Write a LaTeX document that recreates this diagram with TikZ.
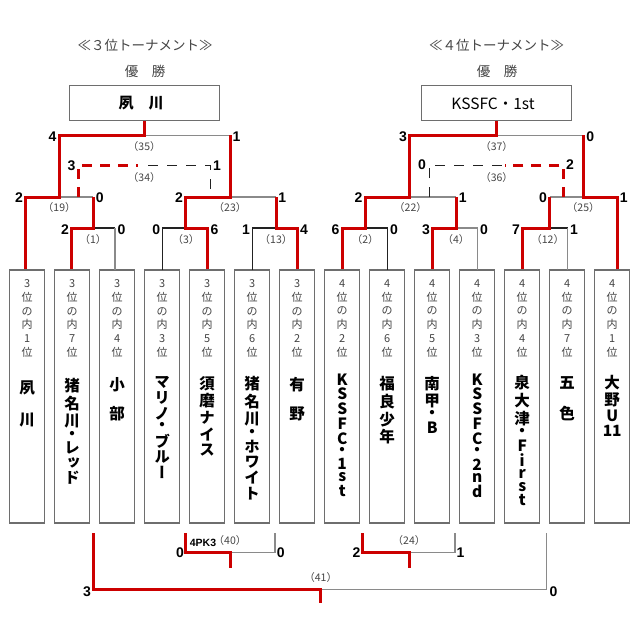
\documentclass[tikz,border=0pt]{standalone}
\usepackage{fontspec}
\newfontfamily\jpv[RawFeature=+vert]{Noto Sans CJK JP}
\newfontfamily\jph{Noto Sans CJK JP}
\newfontfamily\lsans{Liberation Sans}
\definecolor{rd}{HTML}{CC0000}
\definecolor{gl}{HTML}{8A8A8A}
\definecolor{bl}{HTML}{222222}
\definecolor{bx}{HTML}{6E6E6E}
\definecolor{tx}{HTML}{444444}
\newcommand\vhead[1]{\vbox{\baselineskip=13.8pt\lineskiplimit=-100pt\lineskip=0pt\halign{\hfil##\hfil\cr#1\crcr}}}
\newcommand\vname[1]{\vbox{\baselineskip=0pt\lineskiplimit=0pt\lineskip=3pt\halign{\hfil##\hfil\cr#1\crcr}}}
\begin{document}
\begin{tikzpicture}[x=1pt,y=-1pt,
  rl/.style={draw=rd,line width=3pt,line join=miter},
  gline/.style={draw=gl,line width=1.3pt},
  bline/.style={draw=bl,line width=1.2pt},
  rdash/.style={draw=rd,line width=3pt,dash pattern=on 10pt off 8pt},
  bdash/.style={draw=bl,line width=1pt,dash pattern=on 10pt off 9pt},
  tbox/.style={draw=bx,line width=1.3pt,minimum width=35pt,minimum height=253pt,inner sep=0pt},
  topbox/.style={draw=bx,line width=1pt,minimum width=150pt,minimum height=35pt,inner sep=0pt},
  hd/.style={anchor=north,inner sep=0pt,text=tx,font=\jph\fontsize{11}{11}\selectfont},
  nm/.style={anchor=north,inner sep=0pt,font=\jpv\bfseries\fontsize{15.5}{15.5}\selectfont},
  sl/.style={anchor=east,inner sep=0pt,font=\lsans\bfseries\fontsize{14}{14}\selectfont},
  sr/.style={anchor=west,inner sep=0pt,font=\lsans\bfseries\fontsize{14}{14}\selectfont},
  ml/.style={inner sep=0pt,text=tx,font=\jph\fontsize{10.5}{10.5}\selectfont},
  ttl/.style={inner sep=0pt,text=tx,font=\jph\fontsize{13.5}{13.5}\selectfont}]
\useasboundingbox[fill=white] (0,0) rectangle (640,640);

% titles
\node[ttl] (t3) at (145,45) {≪３位トーナメント≫};
\node[ttl] (t4) at (496.7,45) {≪４位トーナメント≫};
\node[ttl] (w3) at (145,71) {優　勝};
\node[ttl] (w4) at (497,71) {優　勝};
\node[topbox] (c3) at (144.2,102.5) {};
\node[topbox] (c4) at (496,102.5) {};
\node[inner sep=0pt,font=\jph\bfseries\fontsize{15}{15}\selectfont] (c3t) at (141,103) {夙　川};
\node[inner sep=0pt,font=\jph\fontsize{15.5}{15.5}\selectfont] (c4t) at (493,103.5) {KSSFC・1st};

% team boxes
\foreach \i in {0,...,13} \node[tbox] (b\i) at ({27.2+45*\i},396.5) {};

% headers
\node[hd] (h0) at (b0.center |- 0,279.3) {\vhead{3\cr 位\cr の\cr 内\cr 1\cr 位}};
\node[hd] (h1) at (b1.center |- 0,279.3) {\vhead{3\cr 位\cr の\cr 内\cr 7\cr 位}};
\node[hd] (h2) at (b2.center |- 0,279.3) {\vhead{3\cr 位\cr の\cr 内\cr 4\cr 位}};
\node[hd] (h3) at (b3.center |- 0,279.3) {\vhead{3\cr 位\cr の\cr 内\cr 3\cr 位}};
\node[hd] (h4) at (b4.center |- 0,279.3) {\vhead{3\cr 位\cr の\cr 内\cr 5\cr 位}};
\node[hd] (h5) at (b5.center |- 0,279.3) {\vhead{3\cr 位\cr の\cr 内\cr 6\cr 位}};
\node[hd] (h6) at (b6.center |- 0,279.3) {\vhead{3\cr 位\cr の\cr 内\cr 2\cr 位}};
\node[hd] (h7) at (b7.center |- 0,279.3) {\vhead{4\cr 位\cr の\cr 内\cr 2\cr 位}};
\node[hd] (h8) at (b8.center |- 0,279.3) {\vhead{4\cr 位\cr の\cr 内\cr 6\cr 位}};
\node[hd] (h9) at (b9.center |- 0,279.3) {\vhead{4\cr 位\cr の\cr 内\cr 5\cr 位}};
\node[hd] (h10) at (b10.center |- 0,279.3) {\vhead{4\cr 位\cr の\cr 内\cr 3\cr 位}};
\node[hd] (h11) at (b11.center |- 0,279.3) {\vhead{4\cr 位\cr の\cr 内\cr 4\cr 位}};
\node[hd] (h12) at (b12.center |- 0,279.3) {\vhead{4\cr 位\cr の\cr 内\cr 7\cr 位}};
\node[hd] (h13) at (b13.center |- 0,279.3) {\vhead{4\cr 位\cr の\cr 内\cr 1\cr 位}};

% names
\node[nm] (n0) at (b0.center |- 0,381) {\vname{夙\cr\rule{0pt}{12pt}\cr 川}};
\node[nm] (n1) at (b1.center |- 0,378) {\vname{猪\cr 名\cr 川\cr ・\cr レ\cr ッ\cr ド}};
\node[nm] (n2) at (b2.center |- 0,377) {\vname{小\cr\rule{0pt}{9pt}\cr 部}};
\node[nm] (n3) at (b3.center |- 0,376) {\vname{マ\cr リ\cr ノ\cr ・\cr ブ\cr ル\cr ー}};
\node[nm] (n4) at (b4.center |- 0,376) {\vname{須\cr 磨\cr ナ\cr イ\cr ス}};
\node[nm] (n5) at (b5.center |- 0,376) {\vname{猪\cr 名\cr 川\cr ・\cr ホ\cr ワ\cr イ\cr ト}};
\node[nm] (n6) at (b6.center |- 0,377) {\vname{有\cr\rule{0pt}{9pt}\cr 野}};
\node[nm] (n7) at (b7.center |- 0,373.3) {\vname{K\cr S\cr S\cr F\cr C\cr ・\cr 1\cr s\cr t}};
\node[nm] (n8) at (b8.center |- 0,376) {\vname{福\cr 良\cr 少\cr 年}};
\node[nm] (n9) at (b9.center |- 0,376) {\vname{南\cr 甲\cr ・\cr B}};
\node[nm] (n10) at (b10.center |- 0,373.3) {\vname{K\cr S\cr S\cr F\cr C\cr ・\cr 2\cr n\cr d}};
\node[nm] (n11) at (b11.center |- 0,375) {\vname{泉\cr 大\cr 津\cr ・\cr F\cr i\cr r\cr s\cr t}};
\node[nm] (n12) at (b12.center |- 0,376.7) {\vname{五\cr\rule{0pt}{11pt}\cr 色}};
\node[nm] (n13) at (b13.center |- 0,375) {\vname{大\cr 野\cr U\cr 11}};

% loser lines
\draw[bline] (93,228)--(115,228);
\draw[gline] (115,228)--(115,270);
\draw[bline] (162.5,270)--(162.5,228)--(185,228);
\draw[bline] (252.3,270)--(252.3,228)--(276,228);
\draw[gline] (59.3,197)--(93,197);
\draw[gline] (230,197)--(276,197);
\draw[gline] (144.3,135.3)--(230,135.3);
\draw[bline] (365,228)--(387.7,228)--(387.7,270);
\draw[gline] (456,228)--(477.7,228)--(477.7,270);
\draw[bline] (549.5,228)--(567.7,228);
\draw[gline] (567.7,228)--(567.7,270);
\draw[gline] (409.5,197)--(456,197);
\draw[gline] (549.5,197)--(583.3,197);
\draw[gline] (496.5,135.3)--(583.3,135.3);
\draw[gline] (320,589.3)--(546.7,589.3)--(546.7,533);
\draw[gline] (230.7,552.3)--(275,552.3)--(275,533);
\draw[gline] (409,552.3)--(455,552.3)--(455,533);

% dashed
\draw[bdash] (148,165)--(210,165)--(210,192);
\draw[rdash] (78.3,197)--(78.3,165)--(138,165);
\draw[bdash] (429,197)--(429,165)--(505,165);
\draw[rdash] (563.3,197)--(563.3,165)--(505,165);

% winner lines
\draw[rl] (b0.north -| 25.7,0)--(25.7,197)--(59.3,197)--(59.3,135.3)--(144.3,135.3)--(c3.south -| 144.3,0);
\draw[rl] (b1.north -| 71,0)--(71,228)--(93,228)--(93,197);
\draw[rl] (b4.north -| 207.5,0)--(207.5,228)--(185,228)--(185,197)--(230,197)--(230,135.3);
\draw[rl] (b6.north -| 297.5,0)--(297.5,228)--(276,228)--(276,197);
\draw[rl] (b7.north -| 342,0)--(342,228)--(365,228)--(365,197)--(409.5,197)--(409.5,135.3)--(496.5,135.3)--(c4.south -| 496.5,0);
\draw[rl] (b9.north -| 432.7,0)--(432.7,228)--(456,228)--(456,197);
\draw[rl] (b11.north -| 522.7,0)--(522.7,228)--(549.5,228)--(549.5,197);
\draw[rl] (b13.north -| 617,0)--(617,197)--(583.3,197)--(583.3,135.3);
\draw[rl] (93.5,533)--(93.5,589.3)--(320,589.3)--(320,603.3);
\draw[rl] (185.7,533)--(185.7,552.3)--(230.7,552.3)--(230.7,567.7);
\draw[rl] (362.7,533)--(362.7,552.3)--(409,552.3)--(409,567.7);

% scores left
\node[sl] (s35a) at (56.5,136.3) {4};
\node[sr] (s35b) at (232.3,136.3) {1};
\node[sl] (s34a) at (75.5,165.5) {3};
\node[sr] (s34b) at (213,165.5) {1};
\node[sl] (s19a) at (23,198) {2};
\node[sr] (s19b) at (95.7,198) {0};
\node[sl] (s23a) at (183,198) {2};
\node[sr] (s23b) at (278.2,198) {1};
\node[sl] (s1a) at (69,229.5) {2};
\node[sr] (s1b) at (117.3,229.5) {0};
\node[sl] (s3a) at (160.3,229.5) {0};
\node[sr] (s3b) at (210.5,229.5) {6};
\node[sl] (s13a) at (250.2,229.5) {1};
\node[sr] (s13b) at (300,229.5) {4};
% scores right
\node[sl] (s37a) at (407,136.3) {3};
\node[sr] (s37b) at (586.2,136.3) {0};
\node[sl] (s36a) at (426,164.5) {0};
\node[sr] (s36b) at (566,164.5) {2};
\node[sl] (s22a) at (362.5,198) {2};
\node[sr] (s22b) at (458.7,198) {1};
\node[sl] (s25a) at (547,198) {0};
\node[sr] (s25b) at (619.7,198) {1};
\node[sl] (s2a) at (339.5,229.5) {6};
\node[sr] (s2b) at (390,229.5) {0};
\node[sl] (s4a) at (430.2,229.5) {3};
\node[sr] (s4b) at (480,229.5) {0};
\node[sl] (s12a) at (520.2,229.5) {7};
\node[sr] (s12b) at (570,229.5) {1};
% bottom scores
\node[sl] (s41a) at (91,591.5) {3};
\node[sr] (s41b) at (549.5,591.5) {0};
\node[sl] (s40a) at (184,553) {0};
\node[sr] (s40b) at (276.7,553) {0};
\node[sl] (s24a) at (360.5,553) {2};
\node[sr] (s24b) at (456.5,553) {1};
\node[inner sep=0pt,font=\lsans\bfseries\fontsize{10.5}{10.5}\selectfont] (pk) at (203,543.3) {4PK3};

% match labels
\node[ml] (m35) at (144.3,146.7) {（35）};
\node[ml] (m34) at (144.3,177.7) {（34）};
\node[ml] (m19) at (59.3,207.7) {（19）};
\node[ml] (m23) at (230,207.7) {（23）};
\node[ml] (m1) at (93,239.3) {（1）};
\node[ml] (m3) at (186,239.3) {（3）};
\node[ml] (m13) at (276,239.3) {（13）};
\node[ml] (m37) at (496.6,146.7) {（37）};
\node[ml] (m36) at (496.6,177.7) {（36）};
\node[ml] (m22) at (410.5,207.7) {（22）};
\node[ml] (m25) at (583.3,207.7) {（25）};
\node[ml] (m2) at (365.3,239.3) {（2）};
\node[ml] (m4) at (456,239.3) {（4）};
\node[ml] (m12) at (547.7,239.3) {（12）};
\node[ml] (m41) at (320.7,577.3) {（41）};
\node[ml] (m40) at (230,540.7) {（40）};
\node[ml] (m24) at (409,540.7) {（24）};
\end{tikzpicture}
\end{document}
